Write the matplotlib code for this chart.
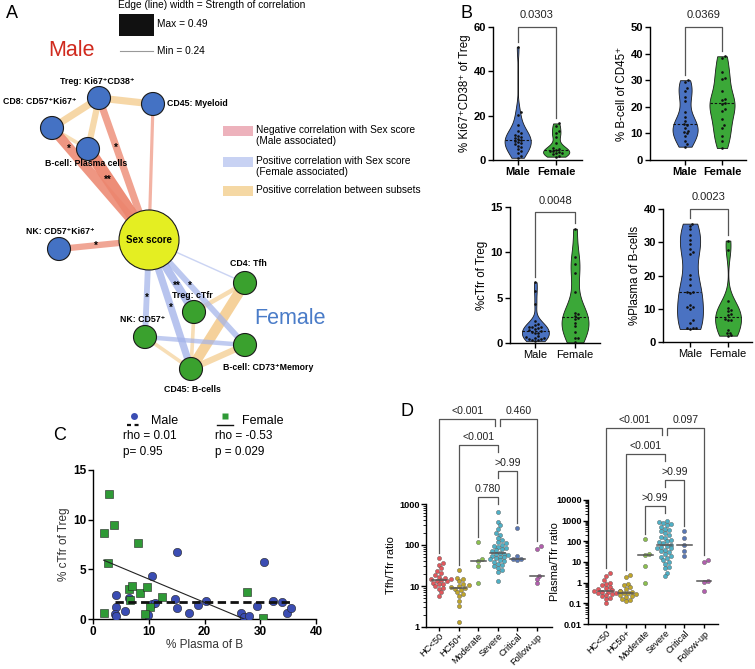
import numpy as np
import matplotlib
matplotlib.use('Agg')
import matplotlib.pyplot as plt
from matplotlib.patches import Circle, Rectangle
from matplotlib.ticker import FixedLocator, FixedFormatter, NullFormatter

plt.rcParams['font.family'] = ['Liberation Sans', 'DejaVu Sans']
plt.rcParams['axes.linewidth'] = 1.0

W, H = 755, 669
fig = plt.figure(figsize=(W / 100, H / 100), dpi=100)

# ======================= DATA =======================
# Panel A: correlation network
node_names = ['Treg: Ki67⁺CD38⁺', 'CD45: Myeloid', 'CD8: CD57⁺Ki67⁺',
              'B-cell: Plasma cells', 'Sex score', 'NK: CD57⁺Ki67⁺',
              'CD4: Tfh', 'Treg: cTfr', 'NK: CD57⁺', 'B-cell: CD73⁺Memory',
              'CD45: B-cells']
node_group = ['male', 'male', 'male', 'male', 'score', 'male',
              'female', 'female', 'female', 'female', 'female']
node_x = [99, 153, 52, 88, 149, 59, 245, 194, 145, 245, 191]
node_y = [98, 104, 128, 149, 240, 249, 283, 312, 337, 345, 369]
edge_src = [0, 0, 0, 2, 6, 6, 7, 8, 10,
            2, 3, 0, 1, 5,
            4, 4, 4, 4, 4, 8]
edge_dst = [2, 1, 3, 3, 10, 7, 10, 10, 9,
            4, 4, 4, 4, 4,
            8, 10, 7, 9, 6, 9]
edge_kind = ['pos'] * 9 + ['neg'] * 5 + ['fem'] * 6
edge_r = [0.38, 0.38, 0.36, 0.30, 0.45, 0.32, 0.30, 0.30, 0.36,
          0.44, 0.49, 0.38, 0.29, 0.36,
          0.35, 0.38, 0.40, 0.35, 0.25, 0.32]
edge_sig = ['', '', '', '', '', '', '', '', '',
            '*', '**', '*', '', '*',
            '*', '*', '**', '*', '', '']

# Panel B / C : per-donor values
ki67_male = [51, 21.5, 20.5, 16, 13, 12, 11.5, 11, 10.5, 10, 9.5, 9, 8.5, 8,
             7.5, 7, 6.5, 6, 5, 4, 3, 2, 1]
ki67_female = [16.5, 15.5, 13, 12, 10.5, 7.5, 5.5, 5, 4.5, 4, 4, 3.5, 3, 3,
               2.5, 2, 1.5]
bcell_male = [30, 29.5, 27, 26, 23.5, 22, 18, 16, 14.5, 13.5, 13, 12, 11,
              10.5, 10, 9, 7, 6, 5]
bcell_female = [39, 38.5, 33, 31, 30.5, 26, 23, 22.5, 21.5, 21, 19, 18.5,
                15.5, 13, 12, 9, 7, 4.5]
plasma_male = [4.1, 4.1, 3.9, 4.1, 5.8, 6.5, 10.5, 10.5, 11.2, 9.9, 14.7,
               15.0, 15.1, 17.2, 18.8, 20.3, 26.5, 27.1, 27.9, 29.5, 30.6,
               32.2, 33.9, 34.8, 35.6]
ctfr_male = [2.4, 1.25, 0.47, 0.33, 0.8, 2.15, 4.3, 1.55, 1.65, 0.4, 2.0,
             1.07, 6.7, 0.64, 1.38, 1.78, 0.6, 0.2, 0.34, 1.34, 5.74, 1.78,
             1.71, 0.57, 1.14]
plasma_female = [2.8, 2.0, 3.7, 8.1, 2.7, 1.9, 6.5, 7.0, 6.6, 8.5, 9.7, 10.3,
                 9.3, 12.3, 27.7, 30.5]
ctfr_female = [12.6, 8.7, 9.5, 7.7, 5.6, 0.57, 3.0, 3.35, 1.9, 2.6, 3.25,
               1.25, 0.55, 2.25, 2.75, 0.07]
b_pvalues = ['0.0303', '0.0369', '0.0048', '0.0023']
fit_male = (0.0, 1.68)        # slope, intercept
fit_female = (-0.235, 6.37)
rho_text = ['rho = 0.01\np= 0.95', 'rho = -0.53\np = 0.029']

# Panel D
d_groups = ['HC<50', 'HC50+', 'Moderate', 'Severe', 'Critical', 'Follow-up']
tfh_tfr = [
    [47, 36, 33, 27, 23, 21, 19, 17, 16, 15, 14.5, 14, 13.5, 13, 12, 11.5, 11,
     10, 9, 8.5, 7, 5.8],
    [24, 16, 15, 13, 11.5, 10.5, 10, 9.5, 9, 8.5, 8, 7, 6.5, 5.7, 4.4, 3.3,
     1.35],
    [118, 45, 40, 30, 12],
    [650, 360, 300, 250, 200, 180, 150, 130, 120, 110, 100, 95, 90, 85, 80,
     75, 70, 65, 62, 60, 58, 55, 52, 50, 48, 45, 42, 40, 38, 35, 33, 30, 28,
     25, 22, 13],
    [260, 55, 46, 45, 42],
    [92, 78, 18, 15, 12]]
plasma_tfr = [
    [2.9, 2.2, 1.3, 1.0, 0.9, 0.75, 0.65, 0.55, 0.5, 0.45, 0.4, 0.38, 0.36,
     0.35, 0.32, 0.3, 0.28, 0.25, 0.22, 0.19, 0.16, 0.1],
    [2.4, 1.8, 0.9, 0.75, 0.6, 0.5, 0.4, 0.35, 0.32, 0.3, 0.28, 0.25, 0.22,
     0.2, 0.17, 0.15, 0.13],
    [125, 25, 21, 6.5, 1.0],
    [1000, 900, 800, 700, 600, 500, 400, 350, 300, 250, 200, 170, 150, 120,
     100, 90, 80, 70, 60, 55, 50, 45, 40, 35, 30, 25, 20, 18, 15, 12, 10, 8,
     6, 5, 3, 2],
    [330, 150, 70, 35, 20],
    [13, 10, 1.2, 1.1, 0.4]]
# brackets: (group i, group j, label, tier)
brackets_left = [(2, 3, '0.780', 0), (3, 4, '>0.99', 1), (1, 3, '<0.001', 2),
                 (0, 3, '<0.001', 3), (3, 5, '0.460', 3)]
brackets_right = [(2, 3, '>0.99', 0), (3, 4, '>0.99', 1), (1, 3, '<0.001', 2),
                  (0, 3, '<0.001', 3), (3, 5, '0.097', 3)]

# ======================= HELPERS =======================
def axpx(l, t, r, b):
    ax = fig.add_axes([l / W, 1 - b / H, (r - l) / W, (b - t) / H])
    ax.patch.set_visible(False)
    return ax


def swarm_offsets(ypx, d):
    ypx = np.asarray(ypx, float)
    order = np.argsort(ypx)
    placed = []
    offs = np.zeros(len(ypx))
    for i in order:
        y = ypx[i]
        k = 0
        found = None
        while found is None:
            cands = [0.0] if k == 0 else [k * d * 0.5, -k * d * 0.5]
            for c in cands:
                if all((c - px) ** 2 + (y - py) ** 2 >= (0.95 * d) ** 2
                       for px, py in placed):
                    found = c
                    break
            k += 1
        offs[i] = found
        placed.append((found, y))
    return offs


# overlay axes in pixel coordinates (y downward)
ov = fig.add_axes([0, 0, 1, 1])
ov.set_xlim(0, W)
ov.set_ylim(H, 0)
ov.axis('off')

# ======================= PANEL A =======================
kind_color = {'neg': '#EC8770', 'fem': '#A3B3EA', 'pos': '#F4CC8E'}
node_color = {'male': '#4472C4', 'female': '#3AA12E', 'score': '#E4EE22'}
for s, d_, k, r, sig in zip(edge_src, edge_dst, edge_kind, edge_r, edge_sig):
    wpx = 1 + (r - 0.24) / (0.49 - 0.24) * 11
    alpha = 0.55 + (r - 0.24) / 0.25 * 0.4
    ov.plot([node_x[s], node_x[d_]], [node_y[s], node_y[d_]],
            color=kind_color[k], lw=wpx * 0.72, alpha=alpha,
            solid_capstyle='butt', zorder=1)
star_t = {9: 0.175, 10: 0.33, 11: 0.345, 13: 0.41, 14: 0.59, 15: 0.52,
          16: 0.625, 17: 0.43}
for idx, t in star_t.items():
    s, d_ = edge_src[idx], edge_dst[idx]
    x = node_x[s] + t * (node_x[d_] - node_x[s])
    y = node_y[s] + t * (node_y[d_] - node_y[s])
    ov.text(x, y + 1, edge_sig[idx], ha='center', va='center', fontsize=7,
            fontweight='bold', zorder=4)
for i, (nx, ny, g) in enumerate(zip(node_x, node_y, node_group)):
    rad = 30 if g == 'score' else 11.5
    ov.add_patch(Circle((nx, ny), rad, facecolor=node_color[g],
                        edgecolor='#1a1a1a', lw=0.8, zorder=3))
label_off = [(-2, -17, 'center'), (14, 0, 'left'), (-12, -26, 'center'),
             (-2, 15, 'center'), (0, 0, 'center'), (1, -17, 'center'),
             (3, -19, 'center'), (-2, -17, 'center'), (-2, -18, 'center'),
             (-22, 22, 'left'), (1, 21, 'center')]
for name, nx, ny, (dx, dy, ha) in zip(node_names, node_x, node_y, label_off):
    ov.text(nx + dx, ny + dy, name, ha=ha, va='center',
            fontsize=7 if name == 'Sex score' else 6.3, fontweight='bold',
            zorder=5)

ov.text(12, 13, 'A', fontsize=13, ha='center', va='center')
ov.text(118, 5, 'Edge (line) width = Strength of correlation', fontsize=7.3,
        va='center', ha='left')
ov.add_patch(Rectangle((119, 14), 35, 22, facecolor='#111', edgecolor='none'))
ov.text(157, 24, 'Max = 0.49', fontsize=7.3, va='center')
ov.plot([120, 153], [51, 51], color='#999', lw=0.8)
ov.text(157, 51, 'Min = 0.24', fontsize=7.3, va='center')
ov.text(71, 50, 'Male', fontsize=15.5, color='#D02A1E', ha='center', va='center')
ov.text(290, 319, 'Female', fontsize=15.5, color='#4A7CC8', ha='center',
        va='center')
leg_items = [('#EDB2BC', 'Negative correlation with Sex score\n(Male associated)', 126),
             ('#C8D2F3', 'Positive correlation with Sex score\n(Female associated)', 157),
             ('#F5D8A4', 'Positive correlation between subsets', 186)]
for c, txt, y in leg_items:
    ov.add_patch(Rectangle((223, y), 30, 10, facecolor=c, edgecolor='none'))
    ov.text(256, y - 1, txt, fontsize=7.3, va='top', ha='left', linespacing=1.15)

# ======================= PANEL B =======================
ov.text(466, 13, 'B', fontsize=13, ha='center', va='center')
vcolors = ['#4A72C2', '#3BA838']


def violin_panel(box, xlim, ylim, yticks, datasets, ylabel, bold_cats, pval,
                 level):
    l, t, r, b = box
    ax = axpx(*box)
    ax.set_xlim(*xlim)
    ax.set_ylim(*ylim)
    sx = (r - l) / (xlim[1] - xlim[0])
    sy = (b - t) / (ylim[1] - ylim[0])
    parts = ax.violinplot(datasets, positions=[0, 1], widths=0.68,
                          showextrema=False, bw_method=0.42)
    for k, (body, c, d) in enumerate(zip(parts['bodies'], vcolors, datasets)):
        body.set_facecolor(c)
        body.set_edgecolor('#1a1a1a')
        body.set_linewidth(0.6)
        body.set_alpha(1)
        v = body.get_paths()[0].vertices
        right = v[v[:, 0] >= k]
        srt = np.argsort(right[:, 1])
        med = np.median(d)
        half = np.interp(med, right[srt, 1], right[srt, 0] - k)
        ax.plot([k - half, k + half], [med, med], color='#111', lw=0.8,
                ls=(0, (2.2, 1.6)))
        offs = swarm_offsets(np.asarray(d) * sy, 3.0) / sx
        ax.plot(k + offs, d, 'o', ms=1.9, color='#111', mec='none', zorder=4)
    for sp in ['top', 'right']:
        ax.spines[sp].set_visible(False)
    ax.set_xticks([0, 1])
    ax.set_xticklabels(['Male', 'Female'], fontsize=8,
                       fontweight='bold' if bold_cats else 'normal')
    ax.set_yticks(yticks)
    ax.set_yticklabels([str(v) for v in yticks], fontsize=8, fontweight='bold')
    ax.tick_params(length=3.5, width=1, pad=1.5)
    ax.set_ylabel(ylabel, fontsize=8.3, labelpad=2)
    gap = 0.04 * (ylim[1] - ylim[0])
    ax.plot([0, 0, 1, 1], [max(datasets[0]) + gap, level, level,
                           max(datasets[1]) + gap],
            color='#555', lw=0.9, clip_on=False)
    ax.text(0.5, level + 0.05 * (ylim[1] - ylim[0]), pval, ha='center',
            va='bottom', fontsize=8, color='#222', clip_on=False)
    return ax


violin_panel((493, 27, 582, 160), (-0.64, 1.67), (0, 60), [0, 20, 40, 60],
             [ki67_male, ki67_female], '% Ki67⁺CD38⁺ of Treg', True,
             b_pvalues[0], 60)
violin_panel((650, 27, 746, 160), (-0.95, 1.65), (0, 50),
             [0, 10, 20, 30, 40, 50], [bcell_male, bcell_female],
             '% B-cell of CD45⁺', True, b_pvalues[1], 50)
violin_panel((510, 207, 600, 343), (-0.64, 1.63), (0, 15), [0, 5, 10, 15],
             [ctfr_male, ctfr_female], '%cTfr of Treg', False,
             b_pvalues[2], 14.4)
violin_panel((663, 209, 752, 342), (-0.71, 1.63), (0, 40),
             [0, 10, 20, 30, 40], [plasma_male, plasma_female],
             '%Plasma of B-cells', False, b_pvalues[3], 40)

# ======================= PANEL C =======================
ov.text(60, 435, 'C', fontsize=13, ha='center', va='center')
axc = axpx(93, 470, 316, 619)
axc.set_xlim(0, 40)
axc.set_ylim(0, 15)
cm, cf = '#3B4DB3', '#2F9A36'
axc.plot(plasma_male, ctfr_male, 'o', ms=6, color=cm, mec='#222', mew=0.4,
         zorder=3)
axc.plot(plasma_female, ctfr_female, 's', ms=6, color=cf, mec='#222',
         mew=0.4, zorder=3)
xm = np.array([min(plasma_male), max(plasma_male)])
axc.plot(xm, fit_male[0] * xm + fit_male[1], color='#111', lw=2,
         ls=(0, (3, 1.6)), zorder=4)
xf = np.array([min(plasma_female), max(plasma_female)])
axc.plot(xf, fit_female[0] * xf + fit_female[1], color='#222', lw=0.8,
         zorder=4)
for sp in ['top', 'right']:
    axc.spines[sp].set_visible(False)
axc.set_xticks([0, 10, 20, 30, 40])
axc.set_yticks([0, 5, 10, 15])
axc.set_xticklabels(['0', '10', '20', '30', '40'], fontsize=8.5,
                    fontweight='bold')
axc.set_yticklabels(['0', '5', '10', '15'], fontsize=8.5, fontweight='bold')
axc.tick_params(length=3.5, width=1, pad=1.5)
axc.set_xlabel('% Plasma of B', fontsize=8.5, color='#333', labelpad=1)
axc.set_ylabel('% cTfr of Treg', fontsize=8.5, color='#333', labelpad=2)
# legend
ov.plot([134], [416], 'o', ms=5, color=cm, mec='none')
ov.plot([127, 141], [425, 425], color='#111', lw=1.6, ls=(0, (1.8, 1.6)))
ov.text(151, 421, 'Male', fontsize=9, va='center')
ov.plot([225], [416], 's', ms=5, color=cf, mec='none')
ov.plot([217, 233], [425, 425], color='#111', lw=1)
ov.text(242, 421, 'Female', fontsize=9, va='center')
ov.text(123, 444, rho_text[0], fontsize=8.5, va='center', linespacing=1.4)
ov.text(215, 444, rho_text[1], fontsize=8.5, va='center', linespacing=1.4)

# ======================= PANEL D =======================
ov.text(407, 412, 'D', fontsize=13, ha='center', va='center')
gcolors = ['#E2575C', '#BFA52A', '#8CC04F', '#4FB0C6', '#5A78B5', '#B25FAE']


def dot_panel(box, lo, decade_px, data, brackets, ylabel, tick_vals,
              tick_labels, base_px, x0, label_x):
    l, t, r, b = box
    ndec = (b - t) / decade_px
    ax = axpx(*box)
    spacing = 19.6
    ax.set_xlim(-x0 / spacing, (r - l - x0) / spacing)
    ax.set_yscale('log')
    ax.set_ylim(lo, lo * 10 ** ndec)
    top_val = tick_vals[-1]
    for i, vals in enumerate(data):
        vals = np.asarray(vals, float)
        ypx = np.log10(vals) * decade_px
        offs = swarm_offsets(ypx, 4.0) / spacing
        ax.plot(i + offs, vals, 'o', ms=3.0, color=gcolors[i], mec='#555',
                mew=0.3, zorder=3)
        med = np.median(vals)
        ax.plot([i - 0.38, i + 0.38], [med, med], color='#555', lw=1.1,
                zorder=4)
    for sp in ['top', 'right']:
        ax.spines[sp].set_visible(False)
    ax.spines['left'].set_bounds(lo, top_val)
    ax.yaxis.set_major_locator(FixedLocator(tick_vals))
    ax.yaxis.set_major_formatter(FixedFormatter(tick_labels))
    minors = [m * v for v in tick_vals[:-1] for m in range(2, 10)]
    ax.yaxis.set_minor_locator(FixedLocator(minors))
    ax.yaxis.set_minor_formatter(NullFormatter())
    for lab in ax.get_yticklabels():
        lab.set_fontweight('bold')
        lab.set_fontsize(6.6)
    ax.tick_params(axis='y', which='major', length=3.5, width=1, pad=1)
    ax.tick_params(axis='y', which='minor', length=2, width=0.6)
    ax.set_xticks(range(len(d_groups)))
    ax.set_xticklabels(d_groups, rotation=45, ha='right',
                       rotation_mode='anchor', fontsize=6.7)
    ax.tick_params(axis='x', length=3, width=1, pad=0.5)
    ax.set_ylabel(ylabel, fontsize=8.0)
    span_frac = np.log10(top_val / lo) / ndec
    ax.yaxis.set_label_coords((label_x - l) / (r - l), span_frac / 2)
    # brackets
    top_log = np.log10(top_val)
    for (i, j, lab, tier) in brackets:
        lev = 10 ** (top_log + (base_px + 26 * tier) / decade_px)
        short = 10 ** (np.log10(lev) - 7 / decade_px)
        xi, xj = float(i), float(j)
        if tier == 3:
            if j == 3:
                xj -= 0.13
            if i == 3:
                xi += 0.13

        def leg(g):
            if g == 3:
                return short
            return 10 ** (np.log10(max(data[g])) + 5 / decade_px)
        ax.plot([xi, xi, xj, xj], [leg(i), lev, lev, leg(j)], color='#555',
                lw=0.9, clip_on=False)
        ax.text((xi + xj) / 2, 10 ** (np.log10(lev) + 2.5 / decade_px), lab,
                ha='center', va='bottom', fontsize=7.6, color='#222',
                clip_on=False)
    return ax


dot_panel((426, 395, 552, 627), 1, 41.0, tfh_tfr, brackets_left,
          'Tfh/Tfr ratio', [1, 10, 100, 1000], ['1', '10', '100', '1000'], 7,
          13.0, 396)
dot_panel((588, 405, 718, 624), 0.01, 20.67, plasma_tfr, brackets_right,
          'Plasma/Tfr ratio', [0.01, 0.1, 1, 10, 100, 1000, 10000],
          ['0.01', '0.1', '1', '10', '100', '1000', '10000'], -6, 18.0, 560)

fig.savefig('out.png', dpi=100)
